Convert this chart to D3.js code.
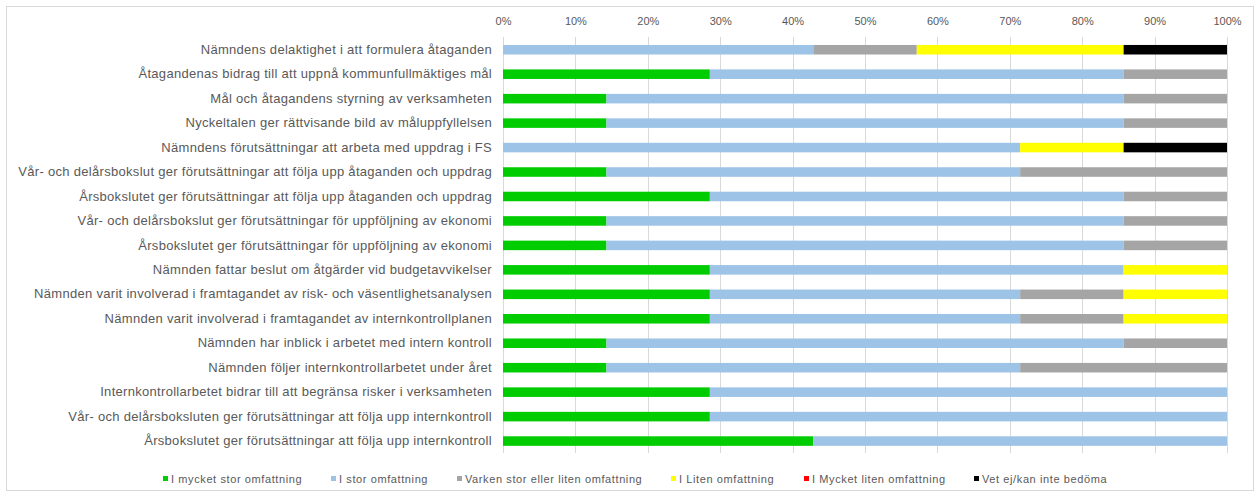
<!DOCTYPE html>
<html>
<head>
<meta charset="utf-8">
<script src="https://cdn.jsdelivr.net/npm/d3@7"></script>
<style>
  html, body { margin: 0; padding: 0; background: #fff; }
  svg { display: block; font-family: "Liberation Sans", Arial, sans-serif; }
</style>
</head>
<body>
<svg id="chart" width="1260" height="496"></svg>
<script>
// Survey statements (top to bottom)
const categories = [
  "Nämndens delaktighet i att formulera åtaganden",
  "Åtagandenas bidrag till att uppnå kommunfullmäktiges mål",
  "Mål och åtagandens styrning av verksamheten",
  "Nyckeltalen ger rättvisande bild av måluppfyllelsen",
  "Nämndens förutsättningar att arbeta med uppdrag i FS",
  "Vår- och delårsbokslut ger förutsättningar att följa upp åtaganden och uppdrag",
  "Årsbokslutet ger förutsättningar att följa upp åtaganden och uppdrag",
  "Vår- och delårsbokslut ger förutsättningar för uppföljning av ekonomi",
  "Årsbokslutet ger förutsättningar för uppföljning av ekonomi",
  "Nämnden fattar beslut om åtgärder vid budgetavvikelser",
  "Nämnden varit involverad i framtagandet av risk- och väsentlighetsanalysen",
  "Nämnden varit involverad i framtagandet av internkontrollplanen",
  "Nämnden har inblick i arbetet med intern kontroll",
  "Nämnden följer internkontrollarbetet under året",
  "Internkontrollarbetet bidrar till att begränsa risker i verksamheten",
  "Vår- och delårsboksluten ger förutsättningar att följa upp internkontroll",
  "Årsbokslutet ger förutsättningar att följa upp internkontroll"
];

// Answer categories (legend order)
const seriesNames = [
  "I mycket stor omfattning",
  "I stor omfattning",
  "Varken stor eller liten omfattning",
  "I Liten omfattning",
  "I Mycket liten omfattning",
  "Vet ej/kan inte bedöma"
];

// Share of answers per statement, percent
const mycketStor  = [0, 28.57, 14.29, 14.29, 0, 14.29, 28.57, 14.29, 14.29, 28.57, 28.57, 28.57, 14.29, 14.29, 28.57, 28.57, 42.86];
const stor        = [42.86, 57.14, 71.43, 71.43, 71.43, 57.14, 57.14, 71.43, 71.43, 57.14, 42.86, 42.86, 71.43, 57.14, 71.43, 71.43, 57.14];
const varken      = [14.29, 14.29, 14.29, 14.29, 0, 28.57, 14.29, 14.29, 14.29, 0, 14.29, 14.29, 14.29, 28.57, 0, 0, 0];
const liten       = [28.57, 0, 0, 0, 14.29, 0, 0, 0, 0, 14.29, 14.29, 14.29, 0, 0, 0, 0, 0];
const mycketLiten = [0, 0, 0, 0, 0, 0, 0, 0, 0, 0, 0, 0, 0, 0, 0, 0, 0];
const vetEj       = [14.29, 0, 0, 0, 14.29, 0, 0, 0, 0, 0, 0, 0, 0, 0, 0, 0, 0];

const tickValues = [0, 10, 20, 30, 40, 50, 60, 70, 80, 90, 100];

const colors = ["#00cc00", "#9dc3e6", "#a5a5a5", "#ffff00", "#ff0000", "#000000"];

const seriesValues = [mycketStor, stor, varken, liten, mycketLiten, vetEj];
const keys = seriesNames;
const rows = categories.map((c, i) => {
  const r = { category: c };
  keys.forEach((k, j) => { r[k] = seriesValues[j][i]; });
  return r;
});

const svg = d3.select("#chart");
const W = 1260, H = 496;

// chart frame
svg.append("rect")
  .attr("x", 6.5).attr("y", 6.5)
  .attr("width", W - 13).attr("height", H - 12)
  .attr("fill", "#fff").attr("stroke", "#d9d9d9");

const x = d3.scaleLinear().domain([0, 100]).range([503, 1227]);
const y = d3.scaleBand().domain(categories).range([37.5, 453.3])
  .paddingInner(0.61).paddingOuter(0.305);

// vertical gridlines
svg.append("g")
  .selectAll("line")
  .data(tickValues)
  .join("line")
  .attr("x1", d => Math.round(x(d)) + 0.5)
  .attr("x2", d => Math.round(x(d)) + 0.5)
  .attr("y1", 37).attr("y2", 453)
  .attr("stroke", "#d9d9d9").attr("stroke-width", 1);

// top percentage axis
const xAxis = d3.axisTop(x)
  .tickValues(tickValues)
  .tickFormat(d => d + "%")
  .tickSize(0).tickPadding(0);
svg.append("g")
  .attr("transform", "translate(0,25)")
  .call(xAxis)
  .call(g => g.select(".domain").remove())
  .call(g => g.selectAll("text")
    .attr("fill", "#595959")
    .style("font-size", "11px")
    .style("font-family", "'Liberation Sans', Arial, sans-serif"));

// stacked bars
const stack = d3.stack().keys(keys);
const layers = stack(rows);

svg.append("g")
  .selectAll("g")
  .data(layers)
  .join("g")
  .attr("fill", (d, i) => colors[i])
  .selectAll("rect")
  .data(d => d)
  .join("rect")
  .attr("x", d => x(d[0]))
  .attr("y", d => y(d.data.category))
  .attr("width", d => Math.max(0, x(Math.min(100, d[1])) - x(d[0])))
  .attr("height", y.bandwidth());

// category labels
const yAxis = d3.axisLeft(y).tickSize(0).tickPadding(11);
svg.append("g")
  .attr("transform", "translate(503,0)")
  .call(yAxis)
  .call(g => g.select(".domain").remove())
  .call(g => g.selectAll("text")
    .attr("fill", "#595959")
    .style("font-size", "13px")
    .style("letter-spacing", "0.3px")
    .style("font-family", "'Liberation Sans', Arial, sans-serif"));

// legend
const legendX = [163, 331, 457, 671, 804, 974];
const legend = svg.append("g")
  .selectAll("g")
  .data(seriesNames)
  .join("g")
  .attr("transform", (d, i) => `translate(${legendX[i]},479)`);
legend.append("rect")
  .attr("x", 0).attr("y", -3)
  .attr("width", 5).attr("height", 5)
  .attr("fill", (d, i) => colors[i]);
legend.append("text")
  .attr("x", 8).attr("y", 0)
  .attr("dy", "0.35em")
  .attr("fill", "#595959")
  .style("font-size", "11px")
  .style("letter-spacing", "0.6px")
  .text(d => d);
</script>
</body>
</html>
